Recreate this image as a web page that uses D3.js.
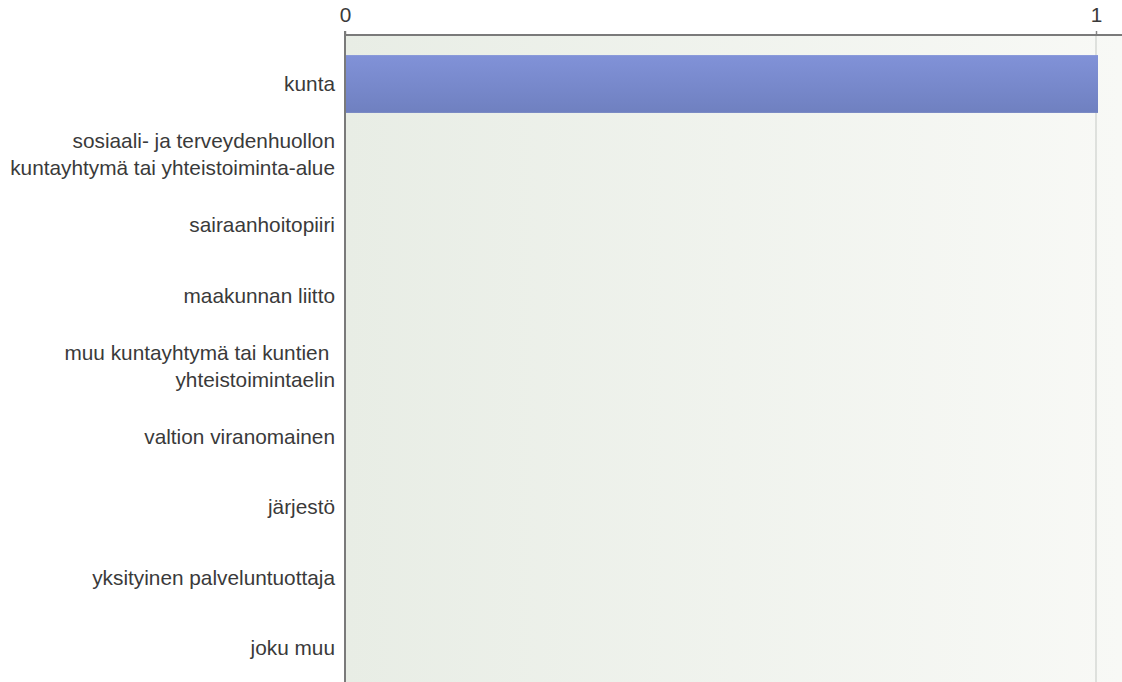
<!DOCTYPE html>
<html><head><meta charset="utf-8">
<script src="https://cdn.jsdelivr.net/npm/d3@7"></script>
<style>body{margin:0;background:#fff;}svg{display:block;font-family:"Liberation Sans",Arial,sans-serif;}</style>
</head><body>
<script>
const categories = [
  ["kunta"],
  ["sosiaali- ja terveydenhuollon", "kuntayhtymä tai yhteistoiminta-alue"],
  ["sairaanhoitopiiri"],
  ["maakunnan liitto"],
  ["muu kuntayhtymä tai kuntien ", "yhteistoimintaelin"],
  ["valtion viranomainen"],
  ["järjestö"],
  ["yksityinen palveluntuottaja"],
  ["joku muu"]
];
const values = [1, 0, 0, 0, 0, 0, 0, 0, 0];
const tickValues = [0, 1];
const tickLabels = ["0", "1"];

(function() {
const W = 1122, H = 682;
const plotLeft = 345, plotTop = 35, unit = 751;
const FS = 20.8;
const svg = d3.select("body").append("svg").attr("width", W).attr("height", H);
const defs = svg.append("defs");
const bg = defs.append("linearGradient").attr("id","bg").attr("x1","0").attr("x2","1").attr("y1","0").attr("y2","0");
bg.append("stop").attr("offset","0").attr("stop-color","#e8ede5");
bg.append("stop").attr("offset","1").attr("stop-color","#f8f9f6");
const bar = defs.append("linearGradient").attr("id","bar").attr("x1","0").attr("x2","0").attr("y1","0").attr("y2","1");
bar.append("stop").attr("offset","0").attr("stop-color","#8192d8");
bar.append("stop").attr("offset","1").attr("stop-color","#6f80c0");

const x = d3.scaleLinear().domain([0, 1]).range([plotLeft, plotLeft + unit]);
const y = d3.scaleBand().domain(d3.range(categories.length)).range([48.75, 48.75 + 70.5 * categories.length]).paddingInner(0.18).paddingOuter(0.09);

svg.append("rect").attr("x", plotLeft).attr("y", plotTop).attr("width", W - plotLeft).attr("height", H - plotTop).attr("fill", "url(#bg)");

svg.selectAll(".grid").data(tickValues.slice(1)).enter().append("line")
  .attr("x1", d => x(d)).attr("x2", d => x(d)).attr("y1", plotTop).attr("y2", H)
  .attr("stroke", "#d6d9d4").attr("stroke-width", 1.5);

svg.selectAll(".bar").data(values).enter().append("rect")
  .attr("x", x(0)).attr("y", (d, i) => y(i)).attr("width", d => d > 0 ? x(d) - x(0) + 2 : 0)
  .attr("height", y.bandwidth()).attr("fill", "url(#bar)");

const axis = d3.axisTop(x).tickValues(tickValues).tickFormat((d, i) => tickLabels[i]).tickSize(4).tickSizeOuter(0);
const g = svg.append("g").attr("transform", `translate(0,${plotTop})`).call(axis);
g.select(".domain").remove();
g.selectAll(".tick line").attr("stroke", "#888").attr("stroke-width", 1.5);
g.selectAll(".tick text").attr("font-size", FS).attr("fill", "#3a3a3a").attr("dy", "-0.3em")
  .attr("font-family", "'Liberation Sans', Arial, sans-serif");
svg.append("line").attr("x1", plotLeft).attr("x2", W).attr("y1", plotTop).attr("y2", plotTop).attr("stroke", "#7a7a7a").attr("stroke-width", 2);
svg.append("line").attr("x1", plotLeft).attr("x2", plotLeft).attr("y1", plotTop - 4).attr("y2", H).attr("stroke", "#7a7a7a").attr("stroke-width", 2);

const lab = svg.selectAll(".lab").data(categories).enter().append("text")
  .attr("text-anchor", "end").attr("font-size", FS).attr("fill", "#3a3a3a")
  .attr("transform", (d, i) => `translate(335,${y(i) + y.bandwidth() / 2})`);
lab.each(function(d) {
  const t = d3.select(this);
  const n = d.length;
  d.forEach((s, k) => {
    t.append("tspan").attr("x", 0).attr("y", (k - (n - 1) / 2) * 27).attr("dy", "0.35em").text(s);
  });
});
})();
</script>
</body></html>
